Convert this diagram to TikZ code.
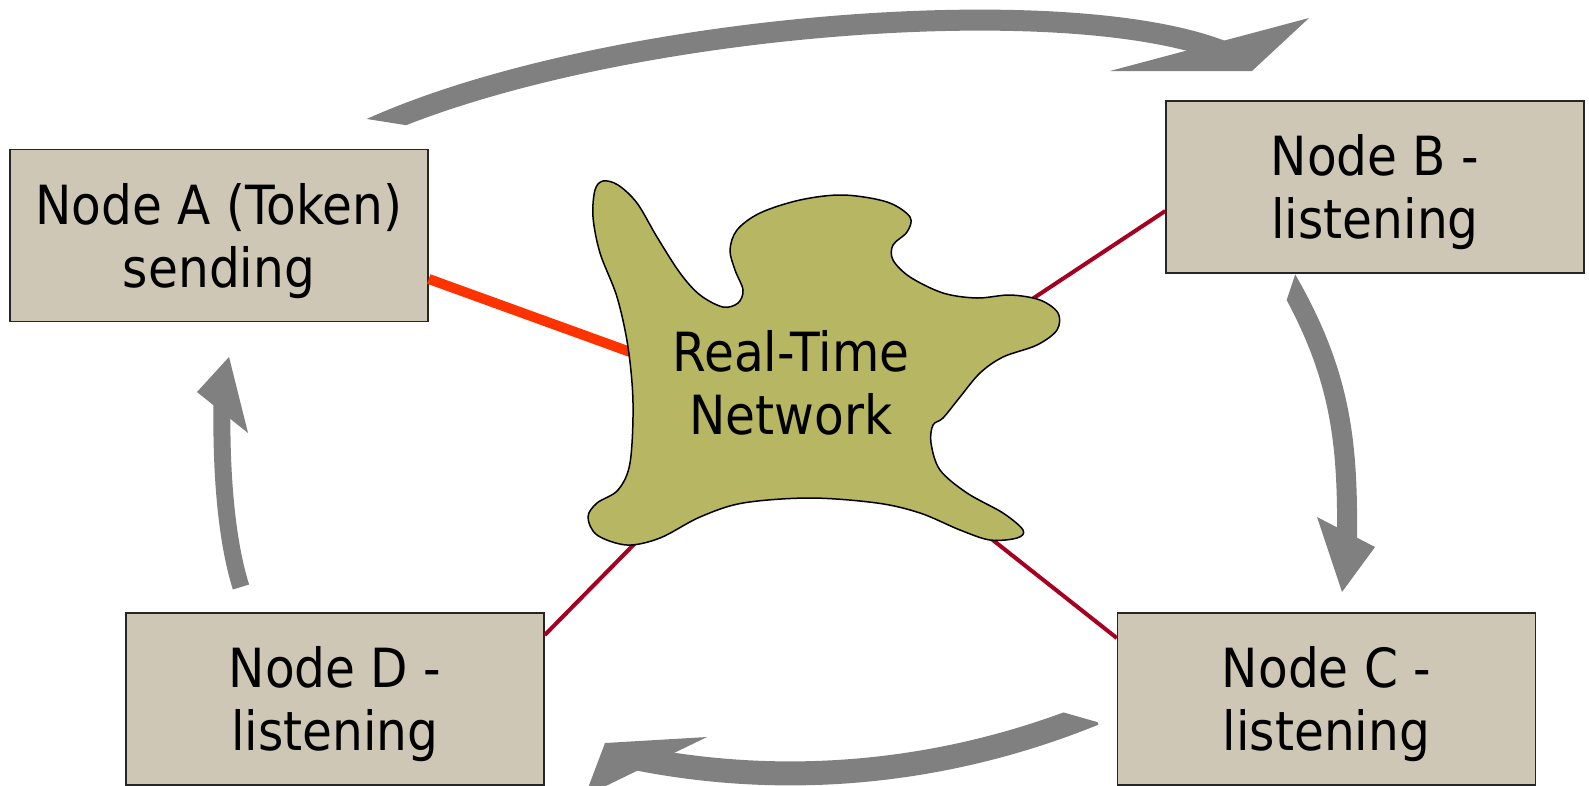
\documentclass[tikz,border=0pt]{standalone}
\usepackage{fontspec}
\setmainfont[FakeStretch=0.9]{DejaVu Sans}

\definecolor{boxfill}{RGB}{206,199,182}
\definecolor{cloudfill}{RGB}{183,182,98}
\definecolor{tokenred}{RGB}{255,51,0}
\definecolor{linkred}{RGB}{165,0,33}
\definecolor{flowgray}{RGB}{128,128,128}

\begin{document}
\begin{tikzpicture}[x=1pt, y=-1pt,
	station/.style={draw=black!85, line width=1.5pt, fill=boxfill, minimum width=418pt, minimum height=172pt, inner sep=0pt, align=center, font=\fontsize{54}{63}\selectfont},
	link/.style={linkred, line width=4pt},
	flow/.style={flowgray, line width=20pt}]
	\clip (0,0) rectangle (1589,785);
	\fill[white] (0,0) rectangle (1589,785);

	\node[station] (A) at (219,235.5) {\rule{0pt}{52pt}Node A (Token)\\sending};
	\node[station] (B) at (1375,187) {\rule{0pt}{52pt}Node B -\\listening};
	\node[station] (C) at (1326.5,699) {\rule{0pt}{52pt}Node C -\\listening};
	\node[station] (D) at (335,699) {\rule{0pt}{52pt}Node D -\\listening};

	% ends of the links, hidden under the cloud
	\coordinate (RA) at (680,370);
	\coordinate (RB) at (1005,317);
	\coordinate (RC) at (970,522);
	\coordinate (RD) at (655,523);

	\draw[tokenred, line width=10pt] ([yshift=-43.5pt]A.east) -- (RA);
	\draw[link] ([yshift=-24pt]B.west) -- (RB);
	\draw[link] ([yshift=61pt]C.west) -- (RC);
	\draw[link] ([yshift=64pt]D.east) -- (RD);

	\draw[fill=cloudfill, line width=1.5pt] plot[smooth cycle, tension=0.55] coordinates {
		(603,181) (618,185) (637,203) (657,237) (680,273) (700,295) (723,307) (738,303)
		(743,290) (735,270) (730,250) (737,230) (760,213) (800,200) (843,195) (887,202)
		(910,217) (907,232) (893,245) (893,260) (910,277) (943,293) (977,298) (1010,295)
		(1040,300) (1058,313) (1057,330) (1037,345) (1003,357) (980,373) (960,397) (943,418)
		(933,425) (931,443) (940,470) (967,493) (1003,513) (1023,530) (1017,538) (990,540)
		(960,530) (920,513) (877,503) (810,498) (743,503) (700,517) (660,538) (627,545)
		(597,535) (588,517) (597,503) (618,490) (630,463) (633,403) (628,347) (617,297)
		(600,253) (593,217) (595,190)};
	\node[align=center, font=\fontsize{54}{63}\selectfont] (net) at (791,383) {Real-Time\\Network};

	% token passing A -> B -> C -> D -> A
	\begin{scope}
		\clip (300,108.4) -- (520,143.2) -- (1589,143.2) -- (1589,0) -- (300,0) -- cycle;
		\draw[flow, line width=21pt] (370,129) .. controls (600,25) and (1060,-12) .. (1222,51);
	\end{scope}
	\fill[flowgray] (1110,71) -- (1309,18) -- (1252,71) -- cycle;

	\begin{scope}
		\clip (1305,245) -- (1250,410) -- (1250,785) -- (1589,785) -- (1589,245) -- cycle;
		\draw[flow] (1281,270) .. controls (1341,370) and (1348,440) .. (1347,540);
	\end{scope}
	\fill[flowgray] (1317,517) -- (1375,547) -- (1342,592) -- cycle;

	\begin{scope}
		\clip (560,680) -- (1000,680) -- (1000,694.3) -- (1130,731.4) -- (1130,790) -- (560,790) -- cycle;
		\draw[flow, line width=24pt] (1094,713.5) .. controls (950,772) and (790,790) .. (630,757);
	\end{scope}
	\fill[flowgray] (707,737) -- (605,743) -- (585,796) -- cycle;

	\draw[flow, line width=17pt] (241,587) .. controls (226,540) and (221,470) .. (222,405);
	\fill[flowgray] (197,392) -- (229,357) -- (248,433) -- cycle;
\end{tikzpicture}
\end{document}
